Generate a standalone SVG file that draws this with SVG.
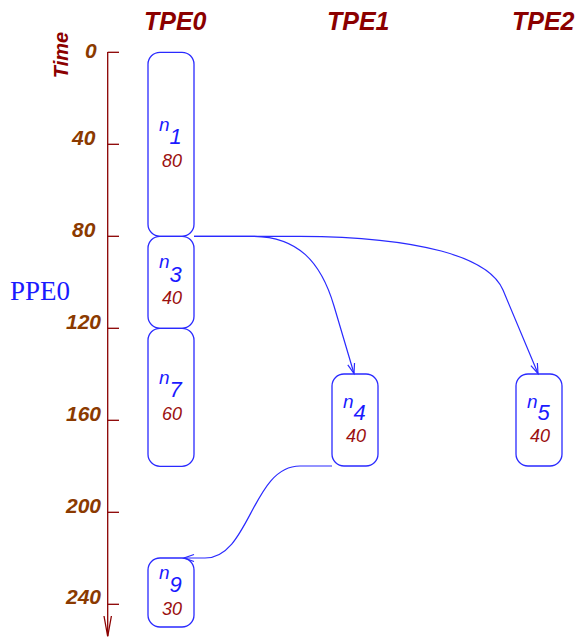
<svg xmlns="http://www.w3.org/2000/svg" width="581" height="639" viewBox="0 0 581 639">
  <style>
    .head { font-family: "Liberation Sans", Arial, sans-serif; font-weight: bold; font-style: italic; font-size: 25px; fill: #8b0000; }
    .tick-label { font-family: "Liberation Sans", Arial, sans-serif; font-weight: bold; font-style: italic; font-size: 21px; fill: #8b3a00; }
    .axis { stroke: #8b0000; stroke-width: 1.3; fill: none; }
    .box { fill: none; stroke: #2a2aff; stroke-width: 1.3; }
    .name { font-family: "Liberation Sans", Arial, sans-serif; font-style: italic; fill: #1a1aff; }
    .cost { font-family: "Liberation Sans", Arial, sans-serif; font-style: italic; font-size: 18px; fill: #9b1010; text-anchor: middle; }
    .edge { fill: none; stroke: #2a2aff; stroke-width: 1.2; }
  </style>
  <defs>
    <marker id="arrow" markerUnits="userSpaceOnUse" markerWidth="12" markerHeight="8" refX="10" refY="3.5" orient="auto" overflow="visible">
      <path d="M0,0 L10,3.5 L0,7" fill="none" stroke="#2a2aff" stroke-width="1.2"/>
    </marker>
  </defs>

  <!-- processor column headers -->
  <g id="headers">
    <text class="head" x="144" y="30">TPE0</text>
    <text class="head" x="327" y="30">TPE1</text>
    <text class="head" x="512" y="30">TPE2</text>
  </g>

  <!-- time axis -->
  <g id="time-axis">
    <text class="head" style="font-size:20px" text-anchor="middle" transform="translate(68,55) rotate(-90)">Time</text>
    <line class="axis" x1="107.7" y1="52" x2="107.7" y2="636"/>
    <polyline class="axis" points="104,616 107.7,636.5 111.4,616"/>
    <g class="axis">
      <line x1="107.7" y1="52.3" x2="119" y2="52.3"/>
      <line x1="107.7" y1="144.3" x2="119" y2="144.3"/>
      <line x1="107.7" y1="236.3" x2="119" y2="236.3"/>
      <line x1="107.7" y1="328.3" x2="119" y2="328.3"/>
      <line x1="107.7" y1="420.3" x2="119" y2="420.3"/>
      <line x1="107.7" y1="512.3" x2="119" y2="512.3"/>
      <line x1="107.7" y1="604.3" x2="119" y2="604.3"/>
    </g>
    <text class="tick-label" x="85" y="58">0</text>
    <text class="tick-label" x="72" y="145">40</text>
    <text class="tick-label" x="72" y="237">80</text>
    <text class="tick-label" x="66" y="329">120</text>
    <text class="tick-label" x="66" y="421">160</text>
    <text class="tick-label" x="66" y="513">200</text>
    <text class="tick-label" x="66" y="604">240</text>
  </g>

  <text id="ppe0" x="10" y="300" font-family="'Liberation Serif', 'Times New Roman', serif" font-size="27" fill="#1a1aff">PPE0</text>

  <!-- task nodes -->
  <g id="n1">
    <rect class="box" x="148" y="52.3" width="46" height="184" rx="12"/>
    <text class="name" x="159" y="131"><tspan font-size="19">n</tspan><tspan font-size="22" dy="13">1</tspan></text>
    <text class="cost" x="172" y="167">80</text>
  </g>
  <g id="n3">
    <rect class="box" x="148" y="236.3" width="46" height="92" rx="12"/>
    <text class="name" x="159" y="268"><tspan font-size="19">n</tspan><tspan font-size="22" dy="14">3</tspan></text>
    <text class="cost" x="172" y="304">40</text>
  </g>
  <g id="n7">
    <rect class="box" x="148" y="328.3" width="46" height="138" rx="12"/>
    <text class="name" x="159" y="384"><tspan font-size="19">n</tspan><tspan font-size="22" dy="13">7</tspan></text>
    <text class="cost" x="172" y="420">60</text>
  </g>
  <g id="n9">
    <rect class="box" x="148" y="558" width="46" height="69" rx="12"/>
    <text class="name" x="159" y="579"><tspan font-size="19">n</tspan><tspan font-size="22" dy="13">9</tspan></text>
    <text class="cost" x="172" y="615">30</text>
  </g>
  <g id="n4">
    <rect class="box" x="332" y="374" width="46" height="92" rx="12"/>
    <text class="name" x="343" y="408"><tspan font-size="19">n</tspan><tspan font-size="22" dy="12">4</tspan></text>
    <text class="cost" x="356" y="442">40</text>
  </g>
  <g id="n5">
    <rect class="box" x="516" y="374" width="46" height="92" rx="12"/>
    <text class="name" x="527" y="408"><tspan font-size="19">n</tspan><tspan font-size="22" dy="12">5</tspan></text>
    <text class="cost" x="540" y="442">40</text>
  </g>

  <!-- communication edges -->
  <g id="edges">
    <path class="edge" marker-end="url(#arrow)" d="M194,236.3 H252 C298,236.3 321,262 334,306 L354,373.5"/>
    <path class="edge" marker-end="url(#arrow)" d="M194,236.3 H300 C420,237 489,257 503,290 L538,373.5"/>
    <path class="edge" marker-end="url(#arrow)" d="M332,466 H300 C252,466 250,558 205,558 H184"/>
  </g>
</svg>
